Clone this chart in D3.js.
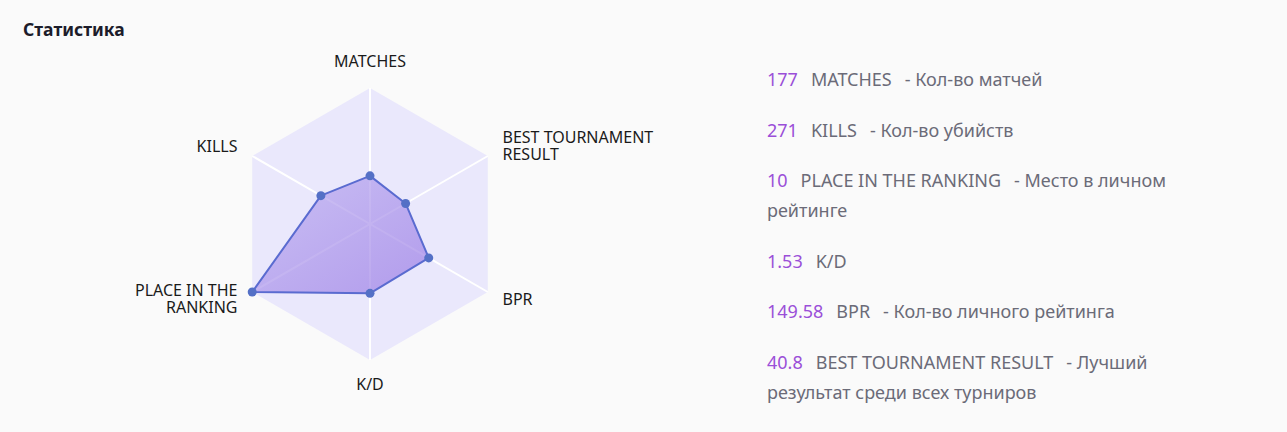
<!DOCTYPE html>
<html>
<head>
<meta charset="utf-8">
<script src="https://cdn.jsdelivr.net/npm/d3@7"></script>
<style>
  body { margin: 0; background: #fafafa; font-family: "Segoe UI", "Noto Sans", sans-serif; }
  #wrap { position: relative; width: 1287px; height: 432px; overflow: hidden; }
  #stats { position: absolute; left: 767px; top: 64px; width: 430px; }
  .row { font-size: 18px; line-height: 30px; margin-bottom: 20.5px; color: #6b6b78; }
  .num { color: #9a4fd8; margin-right: 13px; }
  .name { margin-right: 13px; }
</style>
</head>
<body>
<div id="wrap"></div>
<script>
// radar axes, clockwise from top
const indicators = ["MATCHES", "BEST TOURNAMENT RESULT", "BPR", "K/D", "PLACE IN THE RANKING", "KILLS"]
const indicatorLabels = [["MATCHES"], ["BEST TOURNAMENT", "RESULT"], ["BPR"], ["K/D"], ["PLACE IN THE", "RANKING"], ["KILLS"]]
const indicatorMax = [500, 135, 300, 3, 10, 650]
const playerValues = [177, 40.8, 149.58, 1.53, 10, 271]

// list on the right
const statNumbers = ["177", "271", "10", "1.53", "149.58", "40.8"]
const statNames = ["MATCHES", "KILLS", "PLACE IN THE RANKING", "K/D", "BPR", "BEST TOURNAMENT RESULT"]
const statDescriptions = ["Кол-во матчей", "Кол-во убийств", "Место в личном рейтинге", "", "Кол-во личного рейтинга", "Лучший результат среди всех турниров"]

const W = 1287, H = 432
const cx = 370, cy = 224, R = 136
const n = indicators.length

const wrap = d3.select("#wrap")
const svg = wrap.append("svg").attr("width", W).attr("height", H)

svg.append("text")
  .attr("x", 23).attr("y", 36)
  .attr("font-size", 17.5).attr("font-weight", 700)
  .attr("fill", "#1c1c2a")
  .text("Статистика")

const g = svg.append("g").attr("transform", `translate(${cx},${cy})`)

const angle = d3.scaleLinear().domain([0, n]).range([0, 2 * Math.PI])
const scales = indicatorMax.map(m => d3.scaleLinear().domain([0, m]).range([0, R]))

const defs = svg.append("defs")
const grad = defs.append("linearGradient").attr("id", "areaGrad")
  .attr("x1", 0).attr("y1", 0).attr("x2", 1).attr("y2", 1)
grad.append("stop").attr("offset", "0%").attr("stop-color", "#bcaef0")
grad.append("stop").attr("offset", "100%").attr("stop-color", "#9a7be5")

const radial = d3.lineRadial()
  .angle((d, i) => angle(i))
  .radius(d => d)
  .curve(d3.curveLinearClosed)

// background hexagon
g.append("path")
  .attr("d", radial(d3.range(n).map(() => R)))
  .attr("fill", "#eae8fc")

// axis lines
g.selectAll(".axis-line").data(indicators).join("line")
  .attr("class", "axis-line")
  .attr("x1", 0).attr("y1", 0)
  .attr("x2", (d, i) => R * Math.sin(angle(i)))
  .attr("y2", (d, i) => -R * Math.cos(angle(i)))
  .attr("stroke", "#ffffff")
  .attr("stroke-width", 2)

// axis names
const gap = 17
const lh = 17
const names = g.selectAll(".axis-name").data(indicatorLabels).join("text")
  .attr("class", "axis-name")
  .attr("font-size", 16)
  .attr("fill", "#1a1a1a")
  .attr("text-anchor", (d, i) => {
    const s = Math.sin(angle(i))
    return Math.abs(s) < 0.01 ? "middle" : (s > 0 ? "start" : "end")
  })
  .attr("transform", (d, i) => {
    const a = angle(i)
    const x = (R + gap) * Math.sin(a)
    let y = -(R + gap) * Math.cos(a)
    const c = Math.cos(a)
    const block = d.length * lh
    if (Math.abs(Math.sin(a)) < 0.01) {
      y = c > 0 ? y - block + lh - 4 : y + lh - 4
    } else {
      y = y - block / 2 + lh - 4.5
    }
    return `translate(${x},${y})`
  })
names.selectAll("tspan").data(d => d).join("tspan")
  .attr("x", 0)
  .attr("dy", (d, i) => i === 0 ? 0 : lh)
  .text(d => d)

// data area
const pts = playerValues.map((v, i) => scales[i](v))
g.append("path")
  .attr("d", radial(pts))
  .attr("fill", "url(#areaGrad)")
  .attr("fill-opacity", 0.7)
  .attr("stroke", "#5a6bd0")
  .attr("stroke-width", 2)
  .attr("stroke-linejoin", "round")

g.selectAll(".dot").data(pts).join("circle")
  .attr("class", "dot")
  .attr("cx", (d, i) => d * Math.sin(angle(i)))
  .attr("cy", (d, i) => -d * Math.cos(angle(i)))
  .attr("r", 4.5)
  .attr("fill", "#5470c6")

// stats list, one span per word so wrapped lines stay separate boxes
const list = wrap.append("div").attr("id", "stats")
const rows = list.selectAll(".row").data(statNumbers).join("div").attr("class", "row")
rows.append("span").attr("class", "num").text(d => d)
rows.append("span").attr("class", "name").text((d, i) => statNames[i])
rows.each(function(d, i) {
  if (statDescriptions[i] === "") return
  const words = ["-"].concat(statDescriptions[i].split(" "))
  const row = d3.select(this)
  words.forEach((w, k) => {
    row.append("span").attr("class", "word").text(w)
    if (k < words.length - 1) row.node().appendChild(document.createTextNode(" "))
  })
})
</script>
</body>
</html>
